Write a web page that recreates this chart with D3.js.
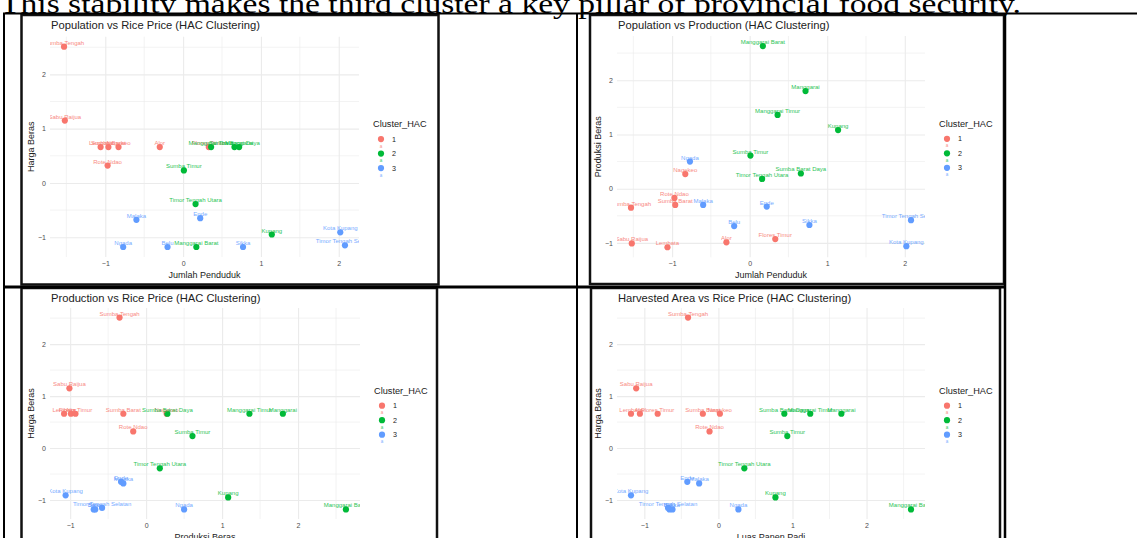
<!DOCTYPE html>
<html><head><meta charset="utf-8">
<script src="https://cdn.jsdelivr.net/npm/d3@7"></script>
<style>body{margin:0;background:#fff;overflow:hidden} svg{display:block}</style>
</head><body>
<svg id="c" width="1137" height="538"></svg>
<script>
// ---------- DATA ----------
const regencies = ["Sumba Tengah","Sabu Raijua","Lembata","Alor","Flores Timur","Nagekeo","Sumba Barat","Rote Ndao",
  "Manggarai Barat","Manggarai","Manggarai Timur","Kupang","Sumba Timur","Sumba Barat Daya","Timor Tengah Utara",
  "Ngada","Malaka","Ende","Belu","Sikka","Timor Tengah Selatan","Kota Kupang"];
const clusterHAC = ["1","1","1","1","1","1","1","1","2","2","2","2","2","2","2","3","3","3","3","3","3","3"];
const jumlahPenduduk = [-1.53,-1.52,-1.06,-0.30,0.33,-0.83,-0.96,-0.97, 0.17,0.72,0.36,1.14,0.01,0.66,0.16, -0.77,-0.60,0.22,-0.20,0.77,2.08,2.02];
const produksiBeras  = [-0.35,-1.01,-1.08,-0.99,-0.93,0.27,-0.30,-0.17, 2.63,1.80,1.36,1.08,0.61,0.28,0.18, 0.50,-0.30,-0.33,-0.69,-0.67,-0.58,-1.06];
const luasPanenPadi  = [-0.41,-1.11,-1.18,-1.06,-0.82,0.02,-0.21,-0.12, 2.60,1.66,1.24,0.77,0.93,0.89,0.35, 0.27,-0.26,-0.42,-0.66,-0.62,-0.68,-1.18];
const hargaBeras     = [2.51,1.15,0.66,0.66,0.66,0.66,0.66,0.32, -1.18,0.66,0.66,-0.95,0.23,0.66,-0.39, -1.18,-0.68,-0.65,-1.18,-1.18,-1.15,-0.91];
const clusterLevels = ["1","2","3"];
const clusterColors = ["#F8766D","#00BA38","#619CFF"];
const tickValues = [-1,0,1,2];
const pageText = "This stability makes the third cluster a key pillar of provincial food security.";

const vars = {pop: jumlahPenduduk, prod: produksiBeras, area: luasPanenPadi, price: hargaBeras};

// ---------- LAYOUT ----------
const panels = [
  {title:"Population vs Rice Price (HAC Clustering)", x:"pop", y:"price", xl:"Jumlah Penduduk", yl:"Harga Beras",
   frame:[21.5,15,438.5,284.5], box:[50,36.7,359,257]},
  {title:"Population vs Production (HAC Clustering)", x:"pop", y:"prod", xl:"Jumlah Penduduk", yl:"Produksi Beras",
   frame:[590,15,1004,284], box:[617,36,925,257.3]},
  {title:"Production vs Rice Price (HAC Clustering)", x:"prod", y:"price", xl:"Produksi Beras", yl:"Harga Beras",
   frame:[21.5,288,437,545], box:[50,308,360,519]},
  {title:"Harvested Area vs Rice Price (HAC Clustering)", x:"area", y:"price", xl:"Luas Panen Padi", yl:"Harga Beras",
   frame:[591,288,1000,545], box:[617,308,925,519]}
];

const svg = d3.select("#c");
const FONT = "'Liberation Sans', Arial, Helvetica, sans-serif";
const color = d3.scaleOrdinal().domain(clusterLevels).range(clusterColors);

// page text
svg.append("text").attr("x",0).attr("y",12.5).attr("font-family","'Liberation Serif','Times New Roman',serif")
  .attr("font-size",27).attr("fill","#000").attr("textLength",1021).attr("lengthAdjust","spacingAndGlyphs").text(pageText);

function expand(arr){ const [a,b]=d3.extent(arr); const e=(b-a)*0.05; return [a-e,b+e]; }

panels.forEach((p,pi)=>{
  const [L,T,R,B] = p.box;
  const xv = vars[p.x], yv = vars[p.y];
  const x = d3.scaleLinear().domain(expand(xv)).range([L,R]);
  const y = d3.scaleLinear().domain(expand(yv)).range([B,T]);
  const g = svg.append("g");
  const [fx0,fy0,fx1,fy1] = p.frame;
  g.append("rect").attr("x",fx0).attr("y",fy0).attr("width",fx1-fx0).attr("height",fy1-fy0)
    .attr("fill","#fff").attr("stroke","#111").attr("stroke-width",2.5);
  const xd = x.domain(), yd = y.domain();
  const minor = [-2.5,-1.5,-0.5,0.5,1.5,2.5,3.5];
  const grid = g.append("g");
  minor.filter(v=>v>xd[0]&&v<xd[1]).forEach(v=>grid.append("line").attr("x1",x(v)).attr("x2",x(v)).attr("y1",T).attr("y2",B).attr("stroke","#ebebeb").attr("stroke-width",0.6));
  minor.filter(v=>v>yd[0]&&v<yd[1]).forEach(v=>grid.append("line").attr("y1",y(v)).attr("y2",y(v)).attr("x1",L).attr("x2",R).attr("stroke","#ebebeb").attr("stroke-width",0.6));
  const xa = g.append("g").attr("transform",`translate(0,${B})`).call(d3.axisBottom(x).tickValues(tickValues).tickSize(-(B-T)).tickPadding(5).tickFormat(d3.format("d")));
  const ya = g.append("g").attr("transform",`translate(${L},0)`).call(d3.axisLeft(y).tickValues(tickValues).tickSize(-(R-L)).tickPadding(4).tickFormat(d3.format("d")));
  [xa,ya].forEach(a=>{
    a.select(".domain").remove();
    a.selectAll(".tick line").attr("stroke","#ebebeb").attr("stroke-width",1.1);
    a.selectAll(".tick text").attr("fill","#4d4d4d").attr("font-size",7).attr("font-family",FONT);
  });
  xa.selectAll(".tick text").attr("dy","0.6em");
  g.append("text").attr("x",(L+R)/2).attr("y",B+20.5).attr("text-anchor","middle").attr("font-family",FONT).attr("font-size",9).attr("fill","#222").text(p.xl);
  g.append("text").attr("transform",`translate(${L-16},${(T+B)/2}) rotate(-90)`).attr("text-anchor","middle").attr("font-family",FONT).attr("font-size",9).attr("fill","#222").text(p.yl);
  g.append("text").attr("x",L+1).attr("y",fy0+14).attr("font-family",FONT).attr("font-size",11.2).attr("fill","#222").text(p.title);
  const cid = "clip"+pi;
  g.append("clipPath").attr("id",cid).append("rect").attr("x",L).attr("y",T).attr("width",R-L).attr("height",B-T);
  const plot = g.append("g").attr("clip-path",`url(#${cid})`);
  const idx = d3.range(regencies.length);
  plot.selectAll("circle").data(idx).join("circle")
    .attr("cx",i=>x(xv[i])).attr("cy",i=>y(yv[i])).attr("r",3.1).attr("fill",i=>color(clusterHAC[i]));
  plot.selectAll("text.lab").data(idx).join("text").attr("class","lab")
    .attr("x",i=>x(xv[i])).attr("y",i=>y(yv[i])-2).attr("text-anchor","middle")
    .attr("font-family",FONT).attr("font-size",6).attr("fill",i=>color(clusterHAC[i])).attr("opacity",0.85)
    .text(i=>regencies[i]);
  const cy = (T+B)/2;
  const lg = g.append("g");
  lg.append("text").attr("x",R+14).attr("y",cy-23).attr("dy","0.35em").attr("font-family",FONT).attr("font-size",9.2).attr("fill","#222").text("Cluster_HAC");
  clusterLevels.forEach((c,k)=>{
    const ky = cy-7.8+k*14.5;
    lg.append("circle").attr("cx",R+22).attr("cy",ky).attr("r",3.1).attr("fill",color(c));
    lg.append("text").attr("x",R+22).attr("y",ky+8.5).attr("text-anchor","middle").attr("font-family",FONT).attr("font-size",4.5).attr("fill",color(c)).attr("opacity",0.8).text("a");
    lg.append("text").attr("x",R+33).attr("y",ky).attr("dy","0.35em").attr("font-family",FONT).attr("font-size",7.2).attr("fill","#222").text(c);
  });
});

const tb = svg.append("g").attr("stroke","#000");
tb.append("line").attr("x1",3).attr("x2",1137).attr("y1",13.5).attr("y2",13.5).attr("stroke-width",2);
tb.append("line").attr("x1",4).attr("x2",4).attr("y1",13).attr("y2",538).attr("stroke-width",2);
tb.append("line").attr("x1",577).attr("x2",577).attr("y1",13).attr("y2",538).attr("stroke-width",2);
tb.append("line").attr("x1",1005).attr("x2",1005).attr("y1",13).attr("y2",538).attr("stroke-width",2.5);
tb.append("line").attr("x1",3).attr("x2",1006).attr("y1",287).attr("y2",287).attr("stroke-width",3);
</script>
</body></html>
